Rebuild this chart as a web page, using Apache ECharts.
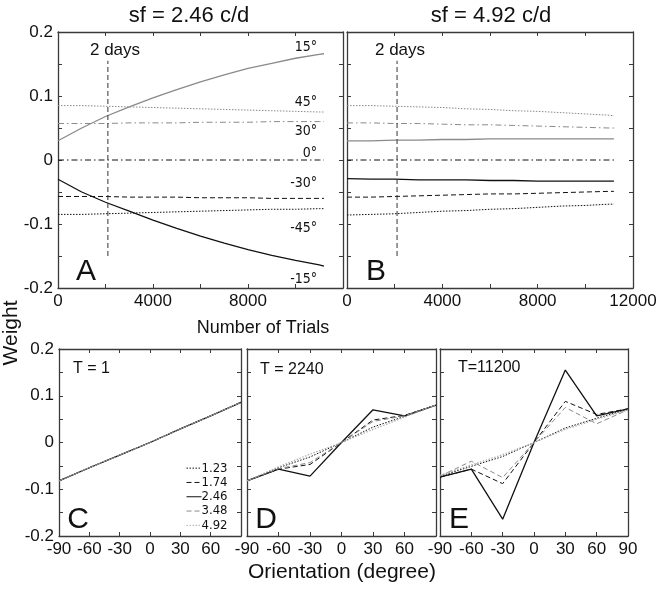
<!DOCTYPE html>
<html>
<head>
<meta charset="utf-8">
<script src="https://cdn.jsdelivr.net/npm/echarts@6/dist/echarts.min.js"></script>
<style>
  html, body { margin: 0; background: #fff; }
  #chart { width: 661px; height: 589px; }
</style>
</head>
<body>
<div id="chart"></div>
<script>
// ---- data ----
const trials = [0, 1000, 2000, 3000, 4000, 5000, 6000, 7000, 8000, 9000, 10000, 11000, 11200];

// panel A, sf = 2.46 c/d, weight per orientation
const a15  = [0.030, 0.050, 0.068, 0.083, 0.097, 0.110, 0.122, 0.133, 0.143, 0.151, 0.159, 0.165, 0.166];
const a45  = [0.085, 0.085, 0.084, 0.083, 0.082, 0.081, 0.080, 0.079, 0.078, 0.077, 0.076, 0.075, 0.075];
const a30  = [0.057, 0.057, 0.057, 0.058, 0.058, 0.058, 0.059, 0.059, 0.059, 0.060, 0.060, 0.060, 0.060];
const a0   = [0, 0, 0, 0, 0, 0, 0, 0, 0, 0, 0, 0, 0];
const aM30 = [-0.057, -0.057, -0.057, -0.058, -0.058, -0.058, -0.059, -0.059, -0.059, -0.060, -0.060, -0.060, -0.060];
const aM45 = [-0.085, -0.085, -0.084, -0.083, -0.082, -0.081, -0.080, -0.079, -0.078, -0.077, -0.077, -0.076, -0.076];
const aM15 = [-0.030, -0.050, -0.066, -0.080, -0.094, -0.107, -0.119, -0.130, -0.140, -0.149, -0.157, -0.164, -0.166];

// panel B, sf = 4.92 c/d
const b45  = [0.085, 0.085, 0.084, 0.083, 0.082, 0.080, 0.079, 0.077, 0.076, 0.074, 0.072, 0.070, 0.069];
const b30  = [0.058, 0.058, 0.057, 0.057, 0.056, 0.055, 0.055, 0.054, 0.053, 0.052, 0.051, 0.050, 0.050];
const b15  = [0.030, 0.030, 0.031, 0.031, 0.032, 0.032, 0.033, 0.033, 0.033, 0.033, 0.033, 0.033, 0.033];
const b0   = [0, 0, 0, 0, 0, 0, 0, 0, 0, 0, 0, 0, 0];
const bM15 = [-0.029, -0.030, -0.030, -0.031, -0.031, -0.031, -0.032, -0.032, -0.033, -0.033, -0.033, -0.033, -0.033];
const bM30 = [-0.058, -0.058, -0.057, -0.056, -0.055, -0.054, -0.053, -0.053, -0.052, -0.051, -0.050, -0.049, -0.049];
const bM45 = [-0.086, -0.085, -0.084, -0.082, -0.080, -0.079, -0.077, -0.076, -0.074, -0.072, -0.071, -0.069, -0.069];

const dayMark = 2100;
const dayLine = [-0.15, 0.155];

// bottom panels: weight vs orientation, one line per sf
const angles = [-90, -60, -30, 0, 30, 60, 90];
const sfNames = ['1.23', '1.74', '2.46', '3.48', '4.92'];
const cAll = [-0.082, -0.054, -0.027, 0, 0.029, 0.057, 0.086];   // T = 1, all sf identical
const d123 = [-0.082, -0.054, -0.031, 0, 0.033, 0.056, 0.080];
const d174 = [-0.082, -0.057, -0.047, 0, 0.048, 0.058, 0.080];
const d246 = [-0.082, -0.057, -0.072, 0, 0.070, 0.057, 0.080];
const d348 = [-0.082, -0.056, -0.043, 0, 0.045, 0.057, 0.080];
const d492 = [-0.082, -0.052, -0.025, 0, 0.028, 0.054, 0.080];
const e123 = [-0.072, -0.051, -0.030, 0, 0.031, 0.052, 0.071];
const e174 = [-0.074, -0.057, -0.088, 0, 0.088, 0.060, 0.072];
const e246 = [-0.074, -0.057, -0.164, 0, 0.155, 0.057, 0.072];
const e348 = [-0.072, -0.040, -0.075, 0, 0.075, 0.040, 0.070];
const e492 = [-0.070, -0.048, -0.026, 0, 0.028, 0.050, 0.069];

// ---- styles ----
const FONT = '"Liberation Sans", Arial, sans-serif';
const NARROW = '"DejaVu Sans Condensed", "Liberation Sans Narrow", sans-serif';
const BLACK = '#111';
const GRAY = '#8a8a8a';
const LIGHT = '#adadad';
const FRAME = '#3a3a3a';
const DOT = [1.5, 1.5];
const DASH = [5, 3];
const DASHDOT = [6, 3, 1.5, 3];

const sfStyle = {
  '1.23': { color: BLACK, type: DOT, width: 1 },
  '1.74': { color: BLACK, type: DASH, width: 1 },
  '2.46': { color: BLACK, type: 'solid', width: 1.3 },
  '3.48': { color: GRAY, type: DASH, width: 1 },
  '4.92': { color: LIGHT, type: DOT, width: 1.2 }
};

const grids = [
  { left: 58, top: 32, width: 285, height: 256 },   // A
  { left: 347, top: 32, width: 286, height: 256 },  // B
  { left: 59, top: 349, width: 182, height: 187 },  // C
  { left: 247, top: 349, width: 189, height: 187 }, // D
  { left: 440, top: 349, width: 188, height: 187 }  // E
];

const yFmt = v => {
  const r = Math.round(v * 100);
  return r % 10 === 0 ? String(r / 100) : '';
};

const xAxes = [];
const yAxes = [];

function addAxes(g, xCfg, showY) {
  const line = { show: true, onZero: false, lineStyle: { color: FRAME, width: 1.3 } };
  const tick = { show: true, inside: true, length: 4, lineStyle: { color: FRAME, width: 1 } };
  const lab = { fontSize: 17, color: BLACK, fontFamily: FONT, margin: 5 };
  xAxes.push({
    gridIndex: g, type: 'value', position: 'bottom',
    min: xCfg.min, max: xCfg.max, interval: xCfg.interval,
    axisLine: line, axisTick: tick, splitLine: { show: false },
    axisLabel: Object.assign({ formatter: xCfg.fmt }, lab)
  });
  xAxes.push({
    gridIndex: g, type: 'value', position: 'top',
    min: xCfg.min, max: xCfg.max, interval: xCfg.interval,
    axisLine: line, axisTick: tick, splitLine: { show: false },
    axisLabel: { show: false }
  });
  yAxes.push({
    gridIndex: g, type: 'value', position: 'left',
    min: -0.2, max: 0.2, interval: 0.05,
    axisLine: line, axisTick: tick, splitLine: { show: false },
    axisLabel: Object.assign({ show: showY, formatter: yFmt }, lab)
  });
  yAxes.push({
    gridIndex: g, type: 'value', position: 'right',
    min: -0.2, max: 0.2, interval: 0.05,
    axisLine: line, axisTick: tick, splitLine: { show: false },
    axisLabel: { show: false }
  });
}

addAxes(0, { min: 0, max: 12000, interval: 2000, fmt: v => (v % 4000 === 0 && v < 12000) ? String(v) : '' }, true);
addAxes(1, { min: 0, max: 12000, interval: 2000, fmt: v => (v % 4000 === 0) ? String(v) : '' }, false);
addAxes(2, { min: -90, max: 90, interval: 30, fmt: v => v < 90 ? String(v) : '' }, true);
addAxes(3, { min: -90, max: 90, interval: 30, fmt: v => v < 90 ? String(v) : '' }, false);
addAxes(4, { min: -90, max: 90, interval: 30, fmt: v => String(v) }, false);

const series = [];
function addLine(g, xs, ys, style, name) {
  series.push({
    type: 'line', name: name, xAxisIndex: g * 2, yAxisIndex: g * 2,
    data: xs.map((x, i) => [x, ys[i]]),
    symbol: 'none', silent: true, smooth: false,
    lineStyle: { color: style.color, type: style.type, width: style.width || 1 },
    itemStyle: { color: style.color, opacity: 0 }
  });
}

// A
addLine(0, trials, a45, { color: GRAY, type: DOT });
addLine(0, trials, a30, { color: GRAY, type: DASHDOT });
addLine(0, trials, a15, { color: GRAY, type: 'solid', width: 1.3 });
addLine(0, trials, a0, { color: BLACK, type: DASHDOT });
addLine(0, trials, aM30, { color: BLACK, type: DASH });
addLine(0, trials, aM45, { color: BLACK, type: DOT });
addLine(0, trials, aM15, { color: BLACK, type: 'solid', width: 1.3 });
addLine(0, [dayMark, dayMark], dayLine, { color: '#333', type: DASH });
// B
addLine(1, trials, b45, { color: GRAY, type: DOT });
addLine(1, trials, b30, { color: GRAY, type: DASHDOT });
addLine(1, trials, b15, { color: GRAY, type: 'solid', width: 1.3 });
addLine(1, trials, b0, { color: BLACK, type: DASHDOT });
addLine(1, trials, bM15, { color: BLACK, type: 'solid', width: 1.3 });
addLine(1, trials, bM30, { color: BLACK, type: DASH });
addLine(1, trials, bM45, { color: BLACK, type: DOT });
addLine(1, [dayMark, dayMark], dayLine, { color: '#333', type: DASH });

// C, D, E
const dSets = { '1.23': d123, '1.74': d174, '2.46': d246, '3.48': d348, '4.92': d492 };
const eSets = { '1.23': e123, '1.74': e174, '2.46': e246, '3.48': e348, '4.92': e492 };
['2.46', '1.23', '1.74', '4.92', '3.48'].forEach(n => addLine(2, angles, cAll, sfStyle[n], n));
sfNames.forEach(n => addLine(3, angles, dSets[n], sfStyle[n], n));
sfNames.forEach(n => addLine(4, angles, eSets[n], sfStyle[n], n));

// text
function txt(text, x, y, size, opts) {
  return Object.assign({
    type: 'text', x: x, y: y, silent: true,
    style: Object.assign({
      text: text, fill: BLACK, font: size + 'px ' + FONT,
      align: 'center', verticalAlign: 'middle'
    }, (opts && opts.style) || {})
  }, (opts && opts.el) || {});
}
const degLabels = [
  ['15°', 47], ['45°', 102], ['30°', 131], ['0°', 153],
  ['-30°', 183], ['-45°', 228], ['-15°', 279]
];
const graphics = [
  txt('sf = 2.46 c/d', 189, 16, 22),
  txt('sf = 4.92 c/d', 491, 16, 22),
  txt('2 days', 115, 50, 17),
  txt('2 days', 400, 50, 17),
  txt('A', 86, 272, 30),
  txt('B', 376, 272, 30),
  txt('C', 78, 520, 30),
  txt('D', 266, 520, 30),
  txt('E', 459, 520, 30),
  txt('T = 1', 73, 369, 16, { style: { align: 'left' } }),
  txt('T = 2240', 260, 370, 16, { style: { align: 'left' } }),
  txt('T=11200', 458, 368, 16, { style: { align: 'left' } }),
  txt('Number of Trials', 263, 328, 18),
  txt('Orientation (degree)', 342, 572, 21),
  txt('Weight', 11, 333, 21, { el: { rotation: Math.PI / 2 } })
];
degLabels.forEach(d => graphics.push(
  txt(d[0], 317, d[1], 14, { style: { align: 'right', font: '14px ' + NARROW } })
));

const chart = echarts.init(document.getElementById('chart'));
chart.setOption({
  animation: false,
  backgroundColor: '#fff',
  grid: grids,
  xAxis: xAxes,
  yAxis: yAxes,
  legend: {
    data: sfNames,
    orient: 'vertical',
    left: 186, top: 461,
    itemWidth: 15, itemHeight: 8, itemGap: 0,
    selectedMode: false,
    padding: 0,
    itemStyle: { opacity: 0 },
    lineStyle: { width: 1 },
    textStyle: { fontSize: 13, fontFamily: NARROW, color: BLACK, lineHeight: 14.3, padding: [0, 0, 0, -5] }
  },
  series: series,
  graphic: graphics
});
</script>
</body>
</html>
